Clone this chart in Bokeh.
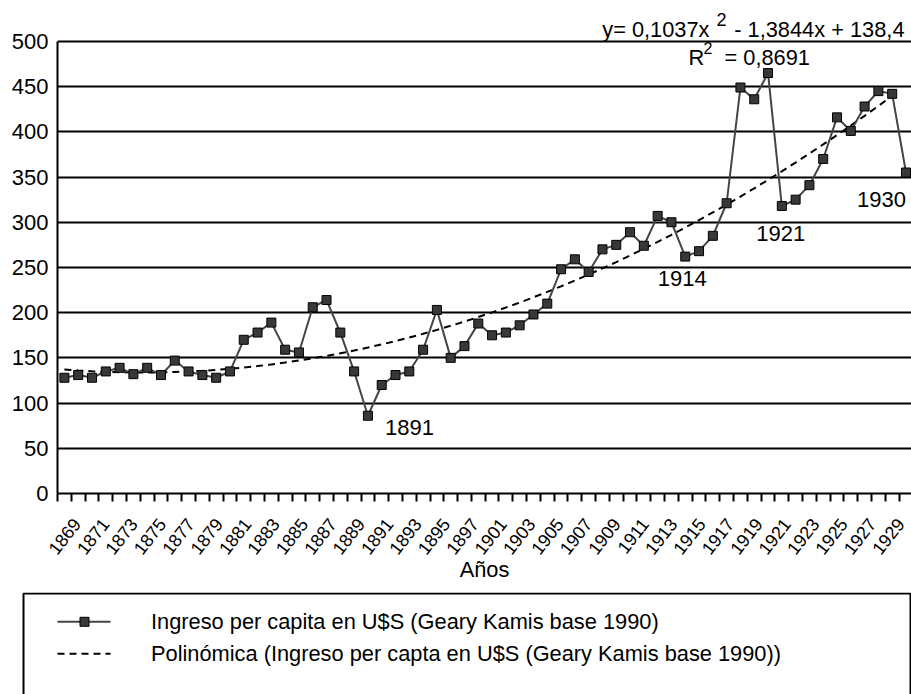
import numpy as np
from bokeh.plotting import figure
from bokeh.models import Range1d, FixedTicker, ColumnDataSource
from bokeh.layouts import column
from bokeh.embed import file_html
from bokeh.resources import INLINE
from bokeh.core.properties import value

# ---------------- data ----------------
years = list(range(1869, 1931))
ingreso = [128, 131, 128, 135, 139, 132, 139, 131, 147, 135,
           131, 128, 135, 170, 178, 189, 159, 156, 206, 214,
           178, 135, 86, 120, 131, 135, 159, 203, 150, 163,
           188, 175, 178, 186, 198, 210, 248, 259, 245, 270,
           275, 289, 274, 307, 300, 262, 268, 285, 321, 449,
           436, 465, 318, 325, 341, 370, 416, 401, 428, 445,
           442, 355]

# polynomial trend shown on the chart: y = 0,1037x^2 - 1,3844x + 138,4 (x = 1, 2, ...)
trend_coef = [0.1037, -1.3844, 138.4]
trend_n = 61

x_tick_labels = ["1869", "1871", "1873", "1875", "1877", "1879", "1881", "1883",
                 "1885", "1887", "1889", "1891", "1893", "1895", "1897", "1901",
                 "1903", "1905", "1907", "1909", "1911", "1913", "1915", "1917",
                 "1919", "1921", "1923", "1925", "1927", "1929"]
y_ticks = [0, 50, 100, 150, 200, 250, 300, 350, 400, 450, 500]

annot_years = [1891, 1914, 1921, 1930]

series_label = "Ingreso per capita en U$S (Geary Kamis base 1990)"
trend_label = "Polinómica (Ingreso per capta en U$S (Geary Kamis base 1990))"
eq_parts = ["y= 0,1037x", "2", "- 1,3844x + 138,4"]
r2_parts = ["R", "2", "= 0,8691"]

FONT = "Liberation Sans"
FS = "21.8px"
SUP = "18px"
LINE_C = "#444444"
W = 911

# ---------------- main chart ----------------
MH = 592                      # frame spans page y 0..493, value 500 sits at ~41
PX_PER_UNIT = 453 / 501.0
x0, x1 = years[0] - 0.5, years[-1] + 0.4
y1 = 493 / PX_PER_UNIT
p = figure(width=W, height=MH, x_range=Range1d(x0, x1), y_range=Range1d(0, y1),
           output_backend="svg", toolbar_location=None,
           min_border_left=57, min_border_right=0, min_border_top=0, min_border_bottom=99)
if "frame_align" in p.properties():
    p.frame_align = False
p.outline_line_color = None
p.background_fill_color = "white"
p.border_fill_color = "white"

p.xgrid.visible = False
p.ygrid.ticker = FixedTicker(ticks=y_ticks)
p.ygrid.grid_line_color = "black"
p.ygrid.grid_line_width = 2

p.yaxis.ticker = FixedTicker(ticks=y_ticks)
p.yaxis.bounds = (y_ticks[0], y_ticks[-1])
p.yaxis.major_tick_out = 0
p.yaxis.major_tick_in = 0
p.yaxis.minor_tick_out = 0
p.yaxis.minor_tick_in = 0
p.yaxis.axis_line_color = "black"
p.yaxis.axis_line_width = 2
p.yaxis.major_label_text_font = FONT
p.yaxis.major_label_text_font_size = "22px"
p.yaxis.major_label_text_color = "black"
p.yaxis.major_label_standoff = 9

# category labels spread evenly across the axis, small ticks between categories
lab_pos = [round(float(v), 4) for v in
           np.linspace(int(x_tick_labels[0]) + 0.9, int(x_tick_labels[-1]) + 0.6, len(x_tick_labels))]
boundaries = [y - 0.5 for y in years] + [years[-1] + 0.5]
p.xaxis.ticker = FixedTicker(ticks=lab_pos, minor_ticks=boundaries)
p.xaxis.major_label_overrides = {pos: lab for pos, lab in zip(lab_pos, x_tick_labels)}
p.xaxis.major_label_orientation = np.deg2rad(52)
p.xaxis.major_tick_out = 0
p.xaxis.major_tick_in = 0
p.xaxis.minor_tick_out = 8
p.xaxis.minor_tick_in = 0
p.xaxis.minor_tick_line_color = "black"
p.xaxis.minor_tick_line_width = 2
p.xaxis.axis_line_color = "black"
p.xaxis.axis_line_width = 2
p.xaxis.major_label_text_font = FONT
p.xaxis.major_label_text_font_size = "18px"
p.xaxis.major_label_text_color = "black"
p.xaxis.major_label_standoff = 19
p.xaxis.axis_label = "Años"
p.xaxis.axis_label_text_font = FONT
p.xaxis.axis_label_text_font_size = FS
p.xaxis.axis_label_text_font_style = "normal"
p.xaxis.axis_label_text_color = "black"
p.xaxis.axis_label_standoff = -6

trend_years = years[:trend_n]
trend_vals = np.polyval(trend_coef, np.arange(1, trend_n + 1))
p.line(trend_years, trend_vals, line_color="black", line_width=2, line_dash="7 5")

src = ColumnDataSource(dict(x=years, y=ingreso))
p.line("x", "y", source=src, line_color=LINE_C, line_width=2)
p.scatter("x", "y", source=src, marker="square", size=9,
          fill_color="#383838", line_color="black", line_width=1)

# year annotations at notable points
val_of = dict(zip(years, ingreso))
ann_src = ColumnDataSource(dict(
    x=annot_years, y=[val_of[y] for y in annot_years], t=[str(y) for y in annot_years],
    xo=[17, -3, -1, 0], yo=[12, 22, 28, 27], al=["left", "center", "center", "right"]))
p.text("x", "y", text="t", source=ann_src, x_offset="xo", y_offset="yo", text_align="al",
       text_baseline="middle", text_font=value(FONT), text_font_size="22px",
       text_color="black")


# trend equation and R^2 (positioned in page pixels)
def dxp(px):
    return x0 + (px - 57) * (x1 - x0) / 854.0


def dyp(py):
    return (493 - py) / PX_PER_UNIT


p.text([dxp(709), dxp(716), dxp(904)], [dyp(29), dyp(18.5), dyp(29)], text=eq_parts,
       text_align=["right", "left", "right"], text_baseline="middle",
       text_font=value(FONT), text_font_size=[FS, SUP, FS], text_color="black")
p.text([dxp(688), dxp(703), dxp(724)], [dyp(56.5), dyp(47), dyp(56.5)], text=r2_parts,
       text_align="left", text_baseline="middle", text_font=value(FONT),
       text_font_size=[FS, "16px", FS], text_color="black")

# ---------------- legend panel ----------------
LH = 694 - MH
lg = figure(width=W, height=LH, x_range=Range1d(0, W), y_range=Range1d(0, LH),
            output_backend="svg", toolbar_location=None, min_border=0,
            x_axis_type=None, y_axis_type=None)
lg.outline_line_color = None
lg.grid.visible = False
lg.background_fill_color = "white"
lg.border_fill_color = "white"
if "frame_align" in lg.properties():
    lg.frame_align = False


def ly(py):
    return 694 - py


lg.line([23, 23, 910, 910], [-10, ly(593), ly(593), -10], line_color="black", line_width=2)
lg.line([57, 110], [ly(621.3), ly(621.3)], line_color=LINE_C, line_width=2)
lg.scatter([84], [ly(621.3)], marker="square", size=9, fill_color="#383838", line_color="black")
lg.line([57, 110], [ly(653.3), ly(653.3)], line_color="black", line_width=2, line_dash="7 5")
lg.text([150.5, 150.5], [ly(621.3), ly(653.3)], text=[series_label, trend_label],
        text_baseline="middle", text_font=value(FONT), text_font_size=FS, text_color="black")

layout = column(p, lg, spacing=0)
open("out.html", "w").write(file_html(layout, INLINE))
